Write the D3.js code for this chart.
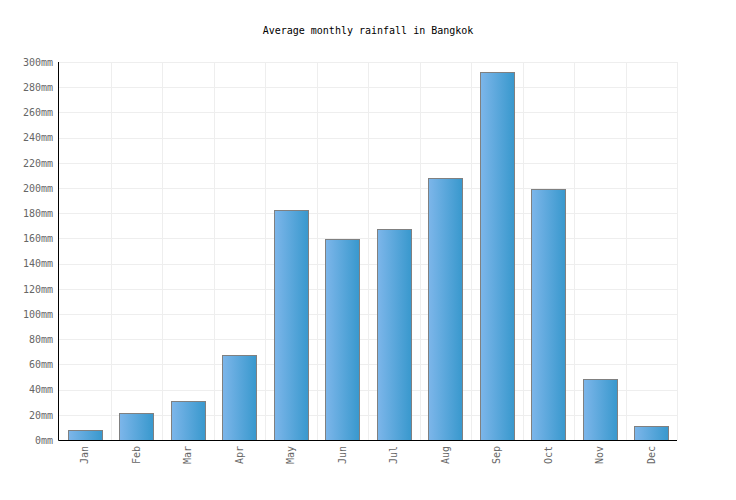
<!DOCTYPE html>
<html lang="en">
<head>
<meta charset="UTF-8">
<title>Average monthly rainfall in Bangkok</title>
<script src="https://d3js.org/d3.v7.min.js"></script>
<style>
    body { margin: 0; background: #fff; }
    svg text { font-family: "DejaVu Sans Mono", monospace; }
    .grid line { stroke: #eeeeee; stroke-width: 1; }
    .axis text { font-size: 10px; fill: #666; }
</style>
</head>
<body>
<div id="chart"></div>
<script>
    // Data
    const months = ["Jan", "Feb", "Mar", "Apr", "May", "Jun", "Jul", "Aug", "Sep", "Oct", "Nov", "Dec"];
    const rainfall = [8, 21.5, 31, 67.5, 182.5, 159.5, 167.5, 208, 292, 199, 48.5, 11];
    const yTicks = [0, 20, 40, 60, 80, 100, 120, 140, 160, 180, 200, 220, 240, 260, 280, 300];

    const width = 736, height = 500;
    const margin = { top: 62, right: 59, bottom: 60, left: 59 };
    const innerW = width - margin.left - margin.right;
    const innerH = height - margin.top - margin.bottom;

    const svg = d3.select("#chart").append("svg")
        .attr("width", width)
        .attr("height", height);

    const defs = svg.append("defs");
    const grad = defs.append("linearGradient")
        .attr("id", "barGrad")
        .attr("x1", "0%").attr("x2", "100%")
        .attr("y1", "0%").attr("y2", "0%");
    grad.append("stop").attr("offset", "0%").attr("stop-color", "#7db6ea");
    grad.append("stop").attr("offset", "100%").attr("stop-color", "#3898cd");

    svg.append("text")
        .attr("x", width / 2)
        .attr("y", 34)
        .attr("text-anchor", "middle")
        .style("font-size", "10px")
        .style("fill", "#000")
        .text("Average monthly rainfall in Bangkok");

    const g = svg.append("g")
        .attr("transform", `translate(${margin.left},${margin.top})`);

    const x = d3.scaleBand()
        .domain(months)
        .range([0, innerW])
        .paddingInner(0.34)
        .paddingOuter(0.17);

    const xGrid = d3.scaleLinear().domain([0, months.length]).range([0, innerW]);

    const y = d3.scaleLinear()
        .domain([0, 300])
        .range([innerH, 0]);

    // grid
    const grid = g.append("g").attr("class", "grid");
    grid.selectAll(".h")
        .data(yTicks)
        .enter().append("line")
        .attr("x1", 0).attr("x2", innerW)
        .attr("y1", d => Math.round(y(d)) + 0.5)
        .attr("y2", d => Math.round(y(d)) + 0.5);
    grid.selectAll(".v")
        .data(d3.range(1, months.length + 1))
        .enter().append("line")
        .attr("x1", d => Math.round(xGrid(d)) + 0.5)
        .attr("x2", d => Math.round(xGrid(d)) + 0.5)
        .attr("y1", 0).attr("y2", innerH);

    // bars
    g.selectAll(".bar")
        .data(months.map((m, i) => ({ month: m, value: rainfall[i] })))
        .enter().append("rect")
        .attr("class", "bar")
        .attr("x", d => Math.round(x(d.month)) + 0.5)
        .attr("y", d => Math.round(y(d.value)) + 0.5)
        .attr("width", Math.round(x.bandwidth()))
        .attr("height", d => innerH - Math.round(y(d.value)))
        .attr("fill", "url(#barGrad)")
        .attr("stroke", "#808080")
        .attr("stroke-width", 1);

    // y axis
    const yAxis = g.append("g")
        .attr("class", "axis")
        .call(d3.axisLeft(y).tickValues(yTicks).tickSize(0).tickPadding(6).tickFormat(d => d + "mm"));
    yAxis.select(".domain").remove();

    // x axis
    const xAxis = g.append("g")
        .attr("class", "axis")
        .attr("transform", `translate(0,${innerH})`)
        .call(d3.axisBottom(x).tickSize(0));
    xAxis.select(".domain").remove();
    xAxis.selectAll("text")
        .attr("transform", "rotate(-90)")
        .attr("text-anchor", "end")
        .attr("x", -6)
        .attr("y", 0)
        .attr("dy", "0.35em");

    // axis lines
    g.append("line")
        .attr("x1", -0.5).attr("x2", -0.5)
        .attr("y1", 0).attr("y2", innerH + 0.5)
        .attr("stroke", "#000");
    g.append("line")
        .attr("x1", -0.5).attr("x2", innerW)
        .attr("y1", innerH + 0.5).attr("y2", innerH + 0.5)
        .attr("stroke", "#000");
</script>
</body>
</html>
